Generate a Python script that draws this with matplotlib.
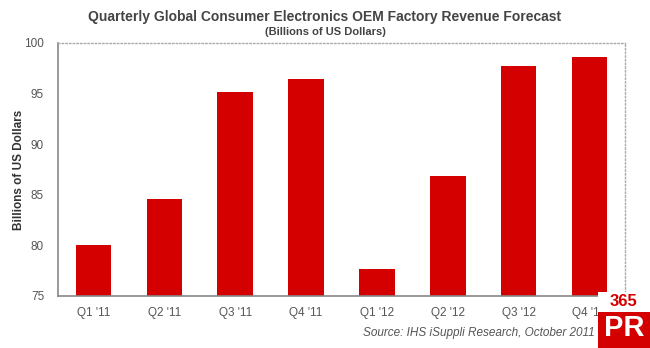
import matplotlib.pyplot as plt
import numpy as np

plt.rcParams['font.family'] = ['Liberation Sans', 'DejaVu Sans']

quarters = ["Q1 '11", "Q2 '11", "Q3 '11", "Q4 '11", "Q1 '12", "Q2 '12", "Q3 '12", "Q4 '12"]
revenue = [80.0, 84.6, 95.2, 96.4, 77.7, 86.9, 97.7, 98.6]
yticks = [75, 80, 85, 90, 95, 100]

fig = plt.figure(figsize=(6.5, 3.48), dpi=100)
ax = fig.add_axes([58 / 650, 1 - 296 / 348, 567 / 650, 253 / 348])

x = np.arange(len(quarters))
ax.bar(x, revenue, width=0.5, color='#d40000', zorder=2)

ax.set_xlim(-0.5, len(quarters) - 0.5)
ax.set_ylim(75, 100)
ax.set_yticks(yticks)
ax.set_xticks(x)
ax.set_xticklabels(quarters)
ax.tick_params(axis='both', length=0, labelsize=8.5, colors='#555555')
ax.tick_params(axis='x', pad=8)
ax.tick_params(axis='y', pad=10)

for side in ['top', 'right']:
    ax.spines[side].set_color('#aaaaaa')
    ax.spines[side].set_linestyle(':')
    ax.spines[side].set_linewidth(1)
for side in ['left', 'bottom']:
    ax.spines[side].set_color('#888888')
    ax.spines[side].set_linewidth(1.2)

ax.set_ylabel('Billions of US Dollars', fontsize=8.5, fontweight='bold', color='#333333')
ax.yaxis.set_label_coords(-0.058, 0.5)

fig.text(0.5, 1 - 17 / 348, 'Quarterly Global Consumer Electronics OEM Factory Revenue Forecast',
         ha='center', va='center', fontsize=10, fontweight='bold', color='#444444')
fig.text(0.5, 1 - 32 / 348, '(Billions of US Dollars)',
         ha='center', va='center', fontsize=8, fontweight='bold', color='#444444')
fig.text(595 / 650, 1 - 333 / 348, 'Source: IHS iSuppli Research, October 2011',
         ha='right', va='center', fontsize=8.5, style='italic', color='#555555')

# watermark logo
fig.patches.append(plt.Rectangle((598 / 650, 0), 52 / 650, 36 / 348, transform=fig.transFigure,
                                 facecolor='#d40000', edgecolor='none', zorder=5))
fig.patches.append(plt.Rectangle((598 / 650, 36 / 348), 52 / 650, 20 / 348, transform=fig.transFigure,
                                 facecolor='white', edgecolor='none', zorder=5))
fig.text(624 / 650, 1 - 302 / 348, '365', ha='center', va='center', fontsize=12,
         fontweight='bold', color='#d40000', zorder=6)
fig.text(624 / 650, 1 - 328 / 348, 'PR', ha='center', va='center', fontsize=21,
         fontweight='bold', color='white', zorder=6)

fig.savefig('out.png', dpi=100)
